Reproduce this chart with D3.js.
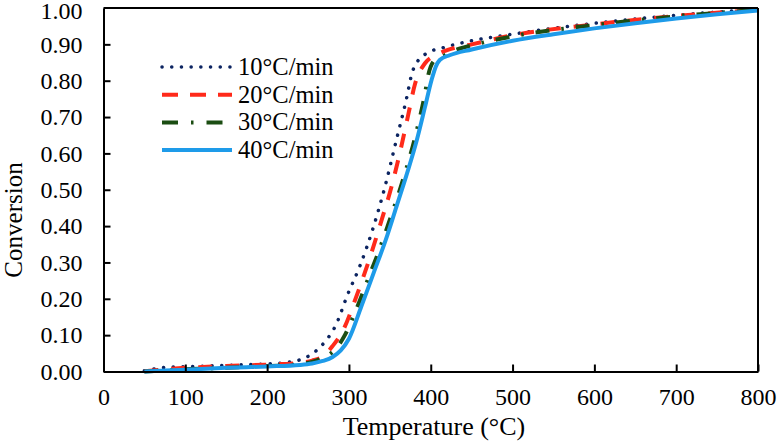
<!DOCTYPE html>
<html>
<head>
<meta charset="utf-8">
<script src="https://cdn.jsdelivr.net/npm/d3@7"></script>
<style>
  body { margin: 0; background: #fff; }
  svg text { font-family: "Liberation Serif", "Times New Roman", serif; fill: #000; }
</style>
</head>
<body>
<svg id="chart" width="777" height="441"></svg>
<script>
// series labels
var seriesNames = ["10\u00B0C/min", "20\u00B0C/min", "30\u00B0C/min", "40\u00B0C/min"];

// temperature (°C), conversion pairs
var rate10 = [[50,0.002],[75,0.011],[100,0.013],[150,0.017],[200,0.021],[220,0.024],[240,0.032],[256,0.05],[270,0.08],[283,0.123],[299,0.215],[313,0.288],[330,0.398],[344,0.508],[358,0.637],[370,0.747],[377,0.82],[385,0.857],[395,0.875],[419,0.893],[444,0.907],[500,0.928],[600,0.958],[700,0.98],[800,0.997]];
var rate20 = [[50,0.001],[100,0.01],[150,0.015],[200,0.019],[240,0.024],[255,0.03],[269,0.043],[280,0.07],[293,0.114],[309,0.206],[326,0.316],[340,0.417],[352,0.508],[363,0.609],[372,0.701],[381,0.793],[393,0.848],[407,0.871],[427,0.889],[450,0.9],[500,0.925],[600,0.955],[700,0.978],[800,0.995]];
var rate30 = [[50,0],[100,0.006],[150,0.01],[200,0.015],[240,0.02],[260,0.03],[275,0.045],[285,0.065],[295,0.1],[307,0.16],[326,0.27],[337,0.334],[347,0.398],[366,0.527],[380,0.637],[386,0.692],[393,0.765],[397,0.816],[405,0.857],[417,0.87],[430,0.884],[450,0.897],[500,0.922],[600,0.953],[700,0.977],[800,0.995]];
var rate40 = [[50,0],[100,0.005],[150,0.01],[200,0.014],[240,0.018],[255,0.022],[268,0.029],[280,0.04],[290,0.058],[300,0.09],[315,0.178],[330,0.27],[345,0.362],[358,0.453],[371,0.545],[383,0.637],[393,0.728],[401,0.802],[406,0.838],[411,0.857],[423,0.87],[450,0.886],[500,0.91],[550,0.928],[600,0.944],[650,0.958],[700,0.971],[750,0.983],[800,0.993]];

var xTicks = [0, 100, 200, 300, 400, 500, 600, 700, 800];
var yTicks = [0, 0.1, 0.2, 0.3, 0.4, 0.5, 0.6, 0.7, 0.8, 0.9, 1.0];

var svg = d3.select("#chart"),
    margin = { top: 8, right: 19, bottom: 69.5, left: 103.5 },
    width = +svg.attr("width") - margin.left - margin.right,
    height = +svg.attr("height") - margin.top - margin.bottom;

var x = d3.scaleLinear().domain([0, 800]).range([0, width]),
    y = d3.scaleLinear().domain([0, 1]).range([height, 0]);

var g = svg.append("g").attr("transform", "translate(" + margin.left + "," + margin.top + ")");

var styles = [
    { color: "#0c2461", width: 3.5, dash: "0.1,9.6", cap: "round" },
    { color: "#ff2a1a", width: 4, dash: "14,13", cap: "butt" },
    { color: "#1b4d12", width: 4, dash: "14,12,2.5,12", cap: "butt" },
    { color: "#1e9be9", width: 4, dash: null, cap: "butt" }
];
var allSeries = [rate10, rate20, rate30, rate40];

var line = d3.line()
    .x(function (d) { return x(d[0]); })
    .y(function (d) { return y(d[1]); })
    .curve(d3.curveMonotoneX);

// lines, drawn in order so 40°C/min sits on top
allSeries.forEach(function (data, i) {
    var s = styles[i];
    g.append("path")
        .datum(data)
        .attr("d", line)
        .attr("fill", "none")
        .attr("stroke", s.color)
        .attr("stroke-width", s.width)
        .attr("stroke-linecap", s.cap)
        .attr("stroke-dasharray", s.dash);
});

// axes with inward ticks
var xAxis = g.append("g")
    .attr("transform", "translate(0," + height + ")")
    .call(d3.axisBottom(x).tickValues(xTicks).tickSizeInner(-7).tickSizeOuter(0).tickPadding(16));
var yAxis = g.append("g")
    .call(d3.axisLeft(y).tickValues(yTicks).tickFormat(d3.format(".2f")).tickSizeInner(-7).tickSizeOuter(0).tickPadding(21));

[xAxis, yAxis].forEach(function (a) {
    a.select(".domain").attr("stroke-width", 2);
    a.selectAll(".tick line").attr("stroke-width", 2);
    a.selectAll(".tick text").style("font-size", "24px").style("font-family", "Liberation Serif, serif");
});
yAxis.select(".tick:last-of-type line").remove();
yAxis.select(".tick:last-of-type text").attr("dy", "0.45em");

// top and right frame
g.append("line").attr("x1", 0).attr("x2", width).attr("y1", y(1)).attr("y2", y(1)).attr("stroke", "#000").attr("stroke-width", 2);
g.append("line").attr("x1", width).attr("x2", width).attr("y1", 0).attr("y2", height).attr("stroke", "#000").attr("stroke-width", 2);

// axis titles
svg.append("text")
    .attr("x", 434)
    .attr("y", 435)
    .attr("text-anchor", "middle")
    .style("font-size", "26px")
    .text("Temperature (\u00B0C)");
svg.append("text")
    .attr("transform", "translate(22,220) rotate(-90)")
    .attr("text-anchor", "middle")
    .style("font-size", "25px")
    .text("Conversion");

// legend
var legend = svg.append("g").attr("transform", "translate(160,67)");
seriesNames.forEach(function (name, i) {
    var s = styles[i];
    var row = legend.append("g").attr("transform", "translate(0," + i * 27.7 + ")");
    row.append("line")
        .attr("x1", 2).attr("x2", 72).attr("y1", 0).attr("y2", 0)
        .attr("stroke", s.color)
        .attr("stroke-width", s.width)
        .attr("stroke-linecap", s.cap)
        .attr("stroke-dasharray", i === 1 ? "16,12" : i === 2 ? "16,13,2.5,13" : s.dash);
    row.append("text")
        .attr("x", 78)
        .attr("y", 8)
        .style("font-size", "24.5px")
        .text(name);
});
</script>
</body>
</html>
